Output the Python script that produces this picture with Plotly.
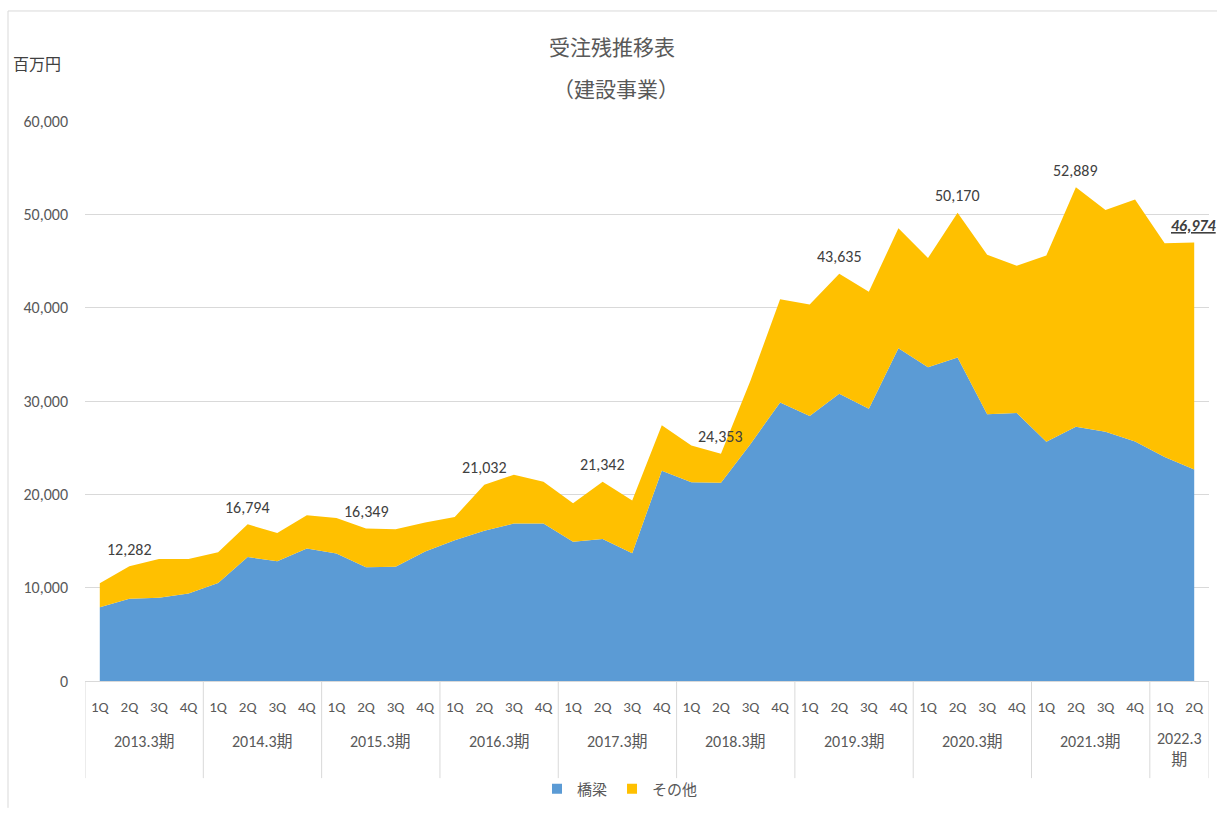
import plotly.graph_objects as go

# ---- data ----
fiscal_years = ["2013.3期", "2014.3期", "2015.3期", "2016.3期", "2017.3期",
                "2018.3期", "2019.3期", "2020.3期", "2021.3期", "2022.3<br>期"]
quarters_per_year = [4, 4, 4, 4, 4, 4, 4, 4, 4, 2]
quarter_names = ["1Q", "2Q", "3Q", "4Q"]

bridge = [7890, 8800, 8910, 9370, 10490, 13280, 12820, 14190, 13660, 12180,
          12250, 13870, 15070, 16090, 16870, 16870, 14930, 15210, 13700, 22530,
          21300, 21230, 25400, 29850, 28400, 30780, 29180, 35640, 33620, 34650,
          28580, 28720, 25640, 27230, 26700, 25650, 23990, 22650]
other = [2570, 3482, 4150, 3690, 3310, 3514, 3030, 3560, 3800, 4169,
         4020, 3100, 2500, 4942, 5240, 4470, 4120, 6132, 5630, 4870,
         3930, 3123, 6800, 11040, 11950, 12855, 12520, 12870, 11700, 15520,
         17090, 15780, 19960, 25659, 23760, 25950, 22920, 24324]

y_ticks = [0, 10000, 20000, 30000, 40000, 50000, 60000]

# ---- derived categories ----
quarter_labels = []
for n in quarters_per_year:
    quarter_labels += quarter_names[:n]
xs = list(range(len(quarter_labels)))
totals = [b + o for b, o in zip(bridge, other)]

BLUE = "#5B9BD5"
YELLOW = "#FFC000"
GRID = "#D9D9D9"
TXT = "#595959"
FONT = "Carlito, 'Liberation Sans', 'Noto Sans CJK JP', sans-serif"
JFONT = "'Noto Sans CJK JP', sans-serif"

fig = go.Figure()
fig.add_trace(go.Scatter(x=xs, y=bridge, name="橋梁", mode="lines",
                         line=dict(width=0, color=BLUE), fillcolor=BLUE,
                         stackgroup="one", showlegend=False))
fig.add_trace(go.Scatter(x=xs, y=other, name="その他", mode="lines",
                         line=dict(width=0, color=YELLOW), fillcolor=YELLOW,
                         stackgroup="one", showlegend=False))
# legend entries with square swatches
for nm, col in (("橋梁", BLUE), ("その他", YELLOW)):
    fig.add_trace(go.Scatter(x=[None], y=[None], name=nm, mode="markers",
                             marker=dict(symbol="square", size=10, color=col),
                             showlegend=True))

PLOT_LEFT, PLOT_RIGHT = 85, 1209
PLOT_TOP, PLOT_BOT = 121, 686
PH = PLOT_BOT - PLOT_TOP
PW = PLOT_RIGHT - PLOT_LEFT


def py(pix):
    return (PLOT_BOT - pix) / PH


def px(pix):
    return (pix - PLOT_LEFT) / PW


annotations = []
shapes = []

start = 0
for yi, n in enumerate(quarters_per_year):
    idx = start + 1
    text = f"{totals[idx]:,}"
    if yi == len(quarters_per_year) - 1:
        text = f"<b><i><u>{text}</u></i></b>"
    annotations.append(dict(x=idx, y=totals[idx], xref="x", yref="y", text=text,
                            showarrow=False, yshift=17, xanchor="center",
                            yanchor="middle",
                            font=dict(family=FONT, size=16, color="#404040")))
    center = start + (n - 1) / 2
    ypos = py(747) if n == 4 else py(755)
    annotations.append(dict(x=center, y=ypos, xref="x", yref="paper",
                            text=fiscal_years[yi], showarrow=False,
                            xanchor="center", yanchor="middle",
                            font=dict(family=FONT, size=16, color=TXT)))
    shapes.append(dict(type="line", xref="x", yref="paper", x0=start - 0.5,
                       x1=start - 0.5, y0=0, y1=py(784),
                       line=dict(color=GRID, width=1)))
    start += n
shapes.append(dict(type="line", xref="x", yref="paper", x0=start - 0.5,
                   x1=start - 0.5, y0=0, y1=py(784),
                   line=dict(color=GRID, width=1)))

# title and unit
annotations.append(dict(x=px(612), y=py(45), xref="paper", yref="paper",
                        text="受注残推移表", showarrow=False,
                        xanchor="center", yanchor="middle",
                        font=dict(family=JFONT, size=21, color=TXT)))
annotations.append(dict(x=px(616), y=py(88), xref="paper", yref="paper",
                        text="（建設事業）", showarrow=False,
                        xanchor="center", yanchor="middle",
                        font=dict(family=JFONT, size=21, color=TXT)))
annotations.append(dict(x=px(11), y=py(62), xref="paper", yref="paper",
                        text="百万円", showarrow=False, xanchor="left",
                        yanchor="middle",
                        font=dict(family=JFONT, size=16, color="#404040")))

# outer frame
shapes.append(dict(type="line", xref="paper", yref="paper",
                   x0=px(8), x1=px(8), y0=py(814), y1=py(10),
                   line=dict(color=GRID, width=1)))
shapes.append(dict(type="line", xref="paper", yref="paper",
                   x0=px(8), x1=px(1217), y0=py(10), y1=py(10),
                   line=dict(color=GRID, width=1)))

fig.update_layout(
    width=1217, height=814,
    margin=dict(l=PLOT_LEFT, r=1217 - PLOT_RIGHT, t=PLOT_TOP, b=814 - PLOT_BOT),
    paper_bgcolor="white", plot_bgcolor="white",
    showlegend=True,
    legend=dict(orientation="h", x=px(620), xanchor="center",
                y=py(795), yanchor="middle", traceorder="normal",
                font=dict(family=JFONT, size=15, color=TXT),
                itemwidth=30, bgcolor="rgba(0,0,0,0)"),
    annotations=annotations,
    shapes=shapes,
    xaxis=dict(range=[-0.5, len(xs) - 0.5], tickmode="array", tickvals=xs,
               ticktext=quarter_labels, showgrid=False, zeroline=False,
               showline=True, linecolor=GRID, ticks="", ticklabelstandoff=12,
               tickfont=dict(family=FONT, size=15, color=TXT), fixedrange=True),
    yaxis=dict(range=[0, 60000], tickmode="array", tickvals=y_ticks,
               ticktext=[f"{v:,}" for v in y_ticks], showgrid=True,
               gridcolor=GRID, zeroline=False, showline=False, ticks="",
               ticklabelstandoff=16,
               tickfont=dict(family=FONT, size=16, color=TXT)),
)

fig.write_html("out.html",
               config={"displayModeBar": False},
               post_script="document.body.style.margin='0';"
                           "document.body.style.overflow='hidden';")
